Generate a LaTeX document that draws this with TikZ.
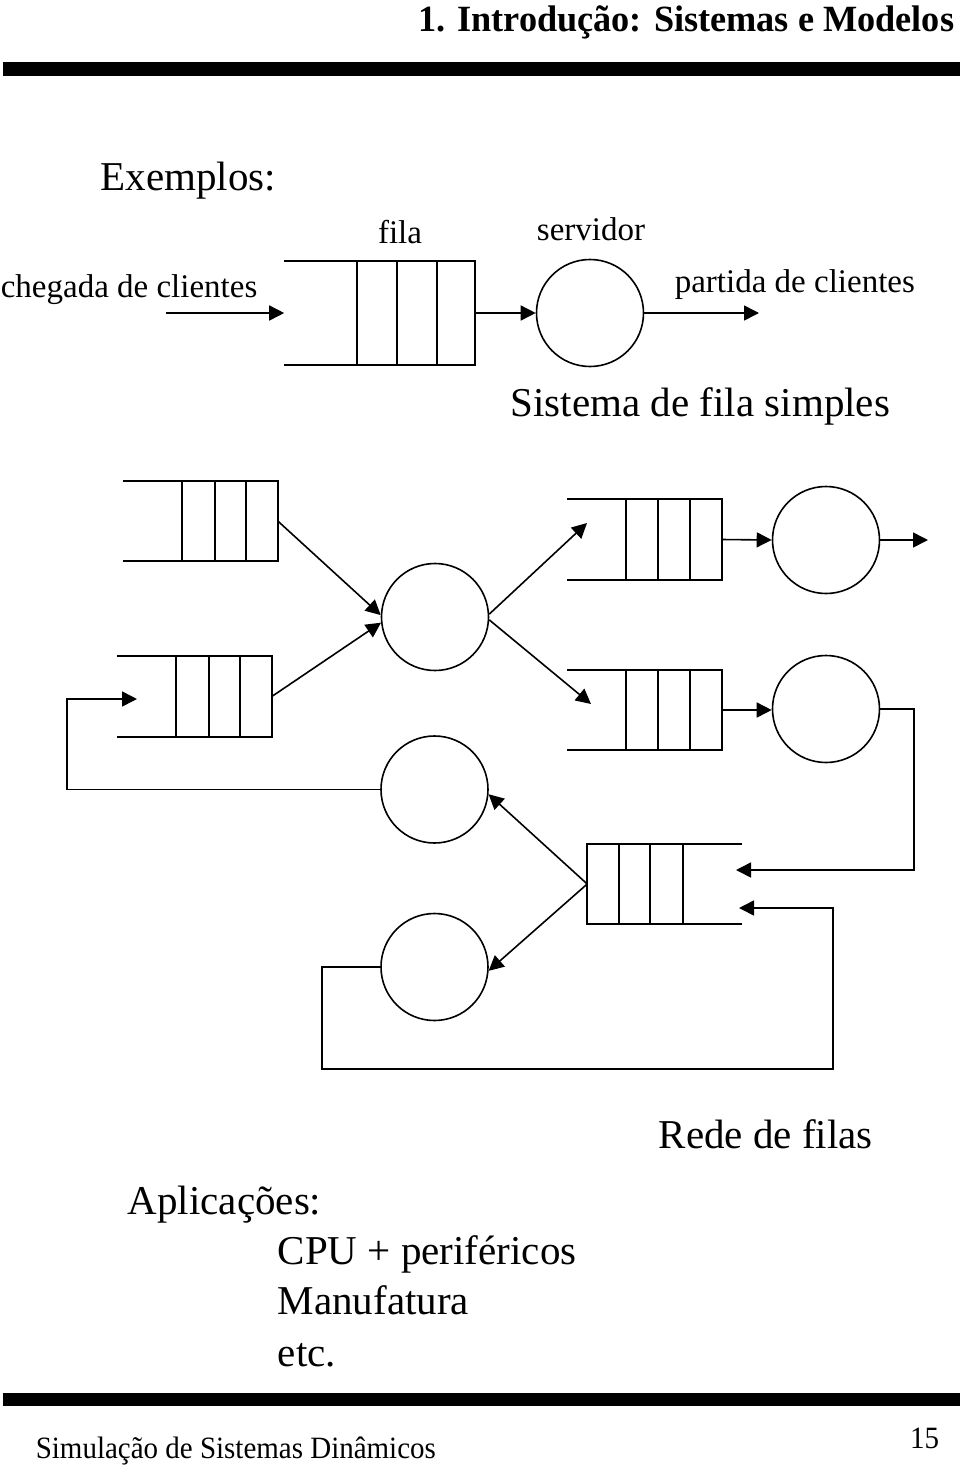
\documentclass[tikz,border=0pt]{standalone}
\usepackage{graphicx}
\usepackage{fontspec}
\setmainfont{Liberation Serif}
\usetikzlibrary{arrows.meta,fit}
\newcommand\qright[6]{%
  \node[qarea,fit={(#2,#4) (#3,#5)}] (#1) {};
  \draw (#1.north west) -- (#1.north east) -- (#1.south east) -- (#1.south west);
  \foreach \d in {#6} \draw (\d,#4) -- (\d,#5);
}
\newcommand\qleft[6]{%
  \node[qarea,fit={(#2,#4) (#3,#5)}] (#1) {};
  \draw (#1.north east) -- (#1.north west) -- (#1.south west) -- (#1.south east);
  \foreach \d in {#6} \draw (\d,#4) -- (\d,#5);
}
\begin{document}
\begin{tikzpicture}[x=1pt,y=-1pt,
  line width=1.6pt,
  arr/.style={-{Triangle[length=15pt,width=15pt]}},
  server/.style={circle,draw,minimum size=107pt,inner sep=0pt},
  qarea/.style={inner sep=0pt},
  big/.style={font=\fontsize{41}{50}\selectfont, inner sep=0pt},
  small/.style={font=\fontsize{33}{40}\selectfont, inner sep=0pt},
  foottext/.style={font=\fontsize{31}{34}\selectfont, inner sep=0pt},
]
\useasboundingbox (0,0) rectangle (960,1470);

% header / footer bars
\fill (3,62) rectangle (960,76);
\fill (3,1393) rectangle (960,1406);
\node[anchor=base east, inner sep=0pt, font=\fontsize{37}{42}\selectfont\bfseries] (title) at (955,31) {\scalebox{0.98}[1]{1. Introdução: Sistemas e Modelos}};
\node[foottext, anchor=base west] (foot) at (35,1458) {\scalebox{0.935}[1]{Simulação de Sistemas Dinâmicos}};
\node[foottext, anchor=base east] (pg) at (940,1448) {\scalebox{0.935}[1]{15}};

% texts
\node[big,anchor=base west] (ex) at (100,190) {Exemplos:};
\node[small,anchor=base] (lfila) at (400,243) {fila};
\node[small,anchor=base] (lserv) at (591,240) {servidor};
\node[small,anchor=base west] (lcheg) at (0,297) {chegada de clientes};
\node[small,anchor=base west] (lpart) at (674,292) {partida de clientes};
\node[big,anchor=base west] (lsis) at (510,416) {Sistema de fila simples};
\node[big,anchor=base west] (lrede) at (658,1148) {Rede de filas};
\node[big,anchor=base west] (lapl) at (127,1214) {Aplicações:};
\node[big,anchor=base west] (l1) at (277,1264) {CPU + periféricos};
\node[big,anchor=base west] (l2) at (277,1314) {Manufatura};
\node[big,anchor=base west] (l3) at (277,1366) {etc.};

% simple queue system
\qright{q0}{285}{474}{262}{364}{357,397,437}
\node[server] (s0) at (590,313) {};
\coordinate (in0) at (166,313);
\coordinate (out0) at (759,313);
\draw[arr] (in0) -- (q0.west);
\draw[arr] (q0.east) -- (s0.west);
\draw[arr] (s0.east) -- (out0);

% network
\qright{qA}{124}{277}{482}{560}{182,215,246}
\qright{qB}{118}{271}{657}{736}{176,209,240}
\qright{qE}{568}{721}{500}{579}{626,658,690}
\qright{qF}{568}{721}{671}{749}{626,658,690}
\qleft{qD}{588}{741}{845}{923}{619,650,683}

\node[server] (s1) at (435,617) {};
\node[server] (s2) at (826,540) {};
\node[server] (s5) at (826,709) {};
\node[server] (s3) at (434.5,789.5) {};
\node[server] (s4) at (434.5,967) {};

\coordinate (qEin) at (587,523);
\coordinate (qFin) at (591,704);
\coordinate (qBin) at (137,699);
\coordinate (fbL) at (67,699);
\coordinate (qDin1) at (736,870);
\coordinate (fbR) at (914,870);
\coordinate (qDin2) at (739,908);
\coordinate (lb1) at (322,1069);
\coordinate (lb2) at (833,908);
\coordinate (out2) at (928,540);

\draw[arr] (qA.east) -- (s1.178);
\draw[arr] (qB.east) -- (s1.186);
\draw[arr] (s1.3) -- (qEin);
\draw[arr] (s1.-3) -- (qFin);
\draw[arr] (qE.east) -- (s2.west);
\draw[arr] (s2.east) -- (out2);
\draw[arr] (qF.east) -- (qF.east -| s5.west);
\draw[arr] (s5.east) -| (fbR) -- (qDin1);
\draw[arr] (qD.west) -- (s3.-5);
\draw[arr] (qD.west) -- (s4.-4);
\draw[arr] (s3.west) -| (fbL) -- (qBin);
\draw[arr] (s4.west) -| (lb1) -| (lb2) -- (qDin2);
\end{tikzpicture}
\end{document}
